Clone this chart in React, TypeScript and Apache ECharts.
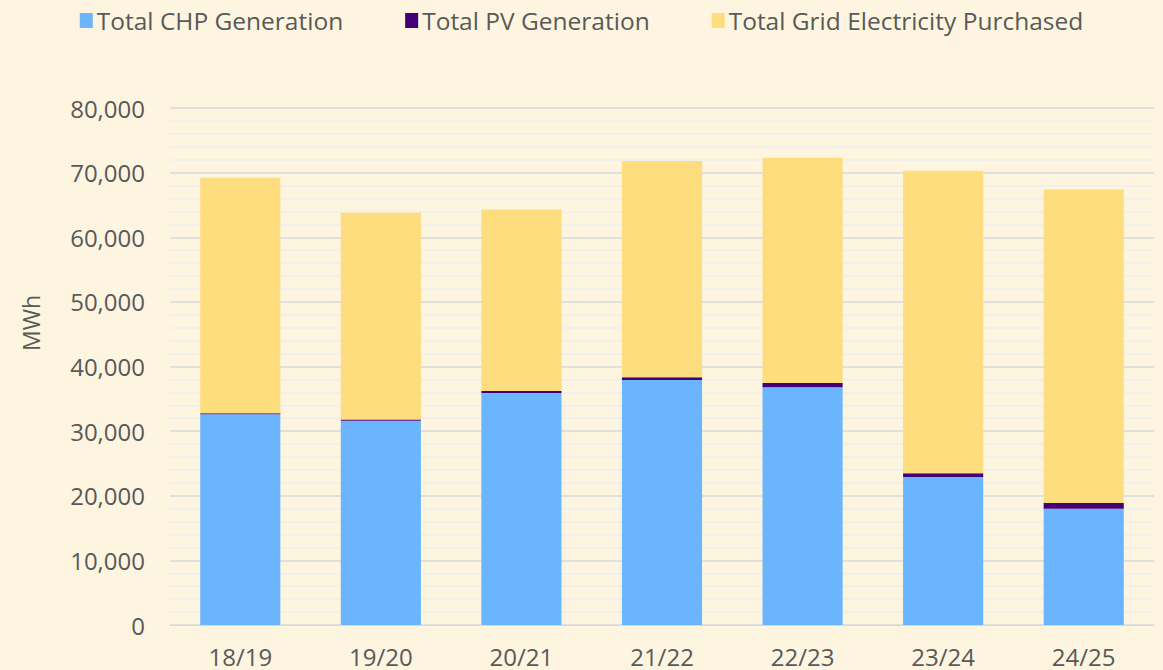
import React, { useEffect, useRef } from "react";
import * as echarts from "echarts";

const categories = ["18/19", "19/20", "20/21", "21/22", "22/23", "23/24", "24/25"];
const chpGeneration = [32600, 31600, 35900, 37900, 36800, 22900, 18000];
const pvGeneration = [150, 200, 300, 450, 650, 600, 870];
const gridPurchased = [36450, 32000, 28100, 33450, 34850, 46800, 48530];
const yAxisTitle = "MWh";

const FONT = "'Open Sans', 'Noto Sans', sans-serif";

export default function App() {
  const ref = useRef<HTMLDivElement>(null);
  useEffect(() => {
    document.body.style.margin = "0";
    const chart = echarts.init(ref.current!, null, { renderer: "svg" });
    chart.setOption({
      animation: false,
      backgroundColor: "#FEF5E0",
      legend: {
        top: 3,
        left: "center",
        itemWidth: 13,
        itemHeight: 15,
        itemGap: 62,
        icon: "rect",
        textStyle: { fontFamily: FONT, fontSize: 24.5, color: "#595959", padding: [0, 0, 0, -1] },
        data: ["Total CHP Generation", "Total PV Generation", "Total Grid Electricity Purchased"],
      },
      graphic: [
        {
          type: "text",
          x: 31,
          y: 323,
          rotation: Math.PI / 2,
          style: {
            text: yAxisTitle,
            fontFamily: FONT,
            fontSize: 23,
            fill: "#595959",
            align: "center",
            verticalAlign: "middle",
          },
        },
      ],
      grid: { left: 170, right: 9, top: 108, bottom: 45 },
      xAxis: {
        type: "category",
        data: categories,
        axisTick: { show: false },
        axisLine: { lineStyle: { color: "#D9D9D9", width: 1 } },
        axisLabel: { fontFamily: FONT, fontSize: 24, color: "#595959", margin: 19 },
      },
      yAxis: {
        type: "value",
        min: 0,
        max: 80000,
        interval: 10000,
        axisLabel: {
          fontFamily: FONT,
          fontSize: 24,
          color: "#595959",
          margin: 25,
          formatter: (v: number) => v.toLocaleString("en-US"),
        },
        splitLine: { lineStyle: { color: "#D9D9D9", width: 1.5 } },
        minorTick: { show: false, splitNumber: 5 },
        minorSplitLine: { show: true, lineStyle: { color: "#EEEEEE", width: 1.5 } },
      },
      series: [
        {
          name: "Total CHP Generation",
          type: "bar",
          stack: "total",
          barWidth: "57%",
          data: chpGeneration,
          itemStyle: { color: "#6BB5FF" },
        },
        {
          name: "Total PV Generation",
          type: "bar",
          stack: "total",
          data: pvGeneration,
          itemStyle: { color: "#440077" },
        },
        {
          name: "Total Grid Electricity Purchased",
          type: "bar",
          stack: "total",
          data: gridPurchased,
          itemStyle: { color: "#FDDD7E" },
        },
      ],
    });
    return () => chart.dispose();
  }, []);
  return <div ref={ref} style={{ width: 1163, height: 670 }} />;
}
